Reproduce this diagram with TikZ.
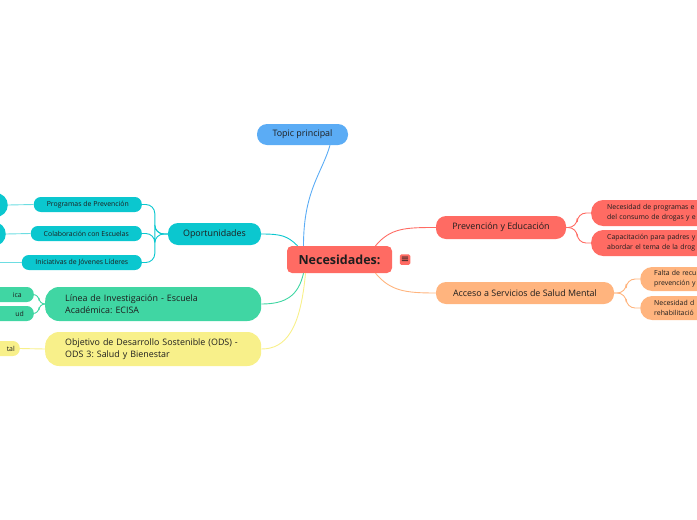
\documentclass[tikz,border=0pt]{standalone}
\usepackage{fontspec}
\setmainfont{Open Sans}
\newfontfamily\symfont{DejaVu Sans}
\frenchspacing
\definecolor{nred}{HTML}{FF6B63}
\definecolor{nteal}{HTML}{0BC7CF}
\definecolor{ngreen}{HTML}{40D6A3}
\definecolor{nyellow}{HTML}{F8F08A}
\definecolor{norange}{HTML}{FFB47E}
\definecolor{nblue}{HTML}{5BACF5}
\definecolor{ntext}{HTML}{1E1E1E}
\tikzset{
  box/.style={inner sep=0pt, text=ntext, rounded corners=#1},
  box/.default=10pt,
  bigfont/.style={font=\fontsize{8.9}{12}\selectfont},
  smallfont/.style={font=\fontsize{6.9}{10}\selectfont},
  link/.style={line width=0.9pt},
  bracket/.style={line width=0.9pt, rounded corners=9pt}
}
\begin{document}
\begin{tikzpicture}[x=1pt,y=-1pt]
  \useasboundingbox (0,0) rectangle (697,520);
  \clip (0,0) rectangle (697,520);

  % central topic
  \node[box=5pt, fill=nred, minimum width=105pt, minimum height=27pt,
        font=\bfseries\fontsize{12.5}{14}\selectfont] (cent) at (339.5,259.5) {Necesidades:};
  \node[box=1.5pt, fill=nred, minimum size=10.5pt, font=\symfont\fontsize{10}{10}\selectfont] (note) at (405,259.5) {≡};

  % main branches
  \node[box, fill=nblue, bigfont, minimum width=91pt, minimum height=21pt] (topic) at (302.5,134.5) {Topic principal};
  \node[box, fill=nteal, bigfont, minimum width=93pt, minimum height=22pt] (opor) at (214.5,234) {Oportunidades};
  \node[box=14pt, fill=ngreen, bigfont, anchor=west, align=left, inner xsep=20pt, text width=176pt,
        minimum height=34pt] (linea) at (45,304) {Línea de Investigación - Escuela\\Académica: ECISA};
  \node[box=14pt, fill=nyellow, bigfont, anchor=west, align=left, inner xsep=20pt, text width=176pt,
        minimum height=34pt] (obj) at (45,349) {Objetivo de Desarrollo Sostenible (ODS) -\\ODS 3: Salud y Bienestar};
  \node[box, fill=nred, bigfont, minimum width=130pt, minimum height=23pt] (prev) at (501,227.5) {Prevención y Educación};
  \node[box, fill=norange, bigfont, minimum width=178pt, minimum height=22pt] (acc) at (525,293) {Acceso a Servicios de Salud Mental};

  % center to branches
  \draw[link, nblue] ([xshift=-36pt]cent.north) .. controls +(0,-55) and +(-8,28) .. (topic.south -| 330,0);
  \draw[link, nteal] ([xshift=-42pt]cent.north) .. controls +(-10,-10) and +(20,0) .. (opor.east);
  \draw[link, ngreen] ([xshift=-36pt]cent.south) .. controls +(-5,22) and +(25,0) .. (linea.east);
  \draw[link, nyellow] ([xshift=-34pt]cent.south) .. controls +(-5,55) and +(25,0) .. (obj.east);
  \draw[link, nred] ([xshift=36pt]cent.north) .. controls +(15,-18) and +(-30,0) .. (prev.west);
  \draw[link, norange] ([xshift=36pt]cent.south) .. controls +(15,18) and +(-30,0) .. (acc.west);

  % oportunidades
  \foreach \name/\y/\w/\txt in {prog/204.5/108/Programas de Prevención,
                                colab/233.5/111/Colaboración con Escuelas,
                                inic/262.5/120/Iniciativas de Jóvenes Líderes} {
    \node[box=7pt, fill=nteal, smallfont, anchor=east, minimum width=\w pt, minimum height=15pt] (\name) at (142,\y) {\txt};
    \draw[bracket, nteal] (opor.west) -- ++(-13,0) |- (\name.east);
  }
  \node[box=12pt, fill=nteal, anchor=east, minimum width=60pt, minimum height=24pt] (progleaf) at (8,205) {};
  \node[box=12pt, fill=nteal, anchor=east, minimum width=60pt, minimum height=24pt] (colableaf) at (6,234) {};
  \coordinate (inicleaf) at (-10,262.5);
  \draw[link, nteal!60] (prog.west) -- (progleaf.east);
  \draw[link, nteal!60] (colab.west) -- (colableaf.east);
  \draw[link, nteal!60] (inic.west) -- (inicleaf);

  % linea de investigacion
  \node[box=7pt, fill=ngreen, smallfont, anchor=east, align=right, inner xsep=12pt, text width=40pt,
        minimum height=15pt] (lineaA) at (34,294.5) {ica};
  \node[box=7pt, fill=ngreen, smallfont, anchor=east, align=right, inner xsep=10pt, text width=40pt,
        minimum height=15pt] (lineaB) at (34,313.5) {ud};
  \draw[bracket, ngreen, rounded corners=6pt] (linea.west) -- ++(-6,0) |- (lineaA.east);
  \draw[bracket, ngreen, rounded corners=6pt] (linea.west) -- ++(-6,0) |- (lineaB.east);

  % objetivo
  \node[box=7pt, fill=nyellow, smallfont, anchor=east, align=right, inner xsep=5pt, text width=40pt,
        minimum height=15pt] (objA) at (20,348.5) {tal};
  \draw[link, nyellow] (obj.west) -- (objA.east);

  % prevencion y educacion
  \node[box=12pt, fill=nred, smallfont, anchor=west, align=left, inner xsep=16pt, text width=150pt,
        minimum height=26pt] (prevA) at (591,213) {Necesidad de programas e\\del consumo de drogas y e};
  \node[box=12pt, fill=nred, smallfont, anchor=west, align=left, inner xsep=16pt, text width=150pt,
        minimum height=26pt] (prevB) at (591,243) {Capacitación para padres y\\abordar el tema de la drog};
  \draw[bracket, nred] (prev.east) -- ++(11,0) |- (prevA.west);
  \draw[bracket, nred] (prev.east) -- ++(11,0) |- (prevB.west);

  % acceso a servicios
  \node[box=12pt, fill=norange, smallfont, anchor=west, align=left, inner xsep=14pt, text width=150pt,
        minimum height=24pt] (accA) at (640,279) {Falta de recu\\prevención y};
  \node[box=12pt, fill=norange, smallfont, anchor=west, align=left, inner xsep=14pt, text width=150pt,
        minimum height=24pt] (accB) at (640,308) {Necesidad d\\rehabilitació};
  \draw[bracket, norange] (acc.east) -- ++(12,0) |- (accA.west);
  \draw[bracket, norange] (acc.east) -- ++(12,0) |- (accB.west);
\end{tikzpicture}
\end{document}
